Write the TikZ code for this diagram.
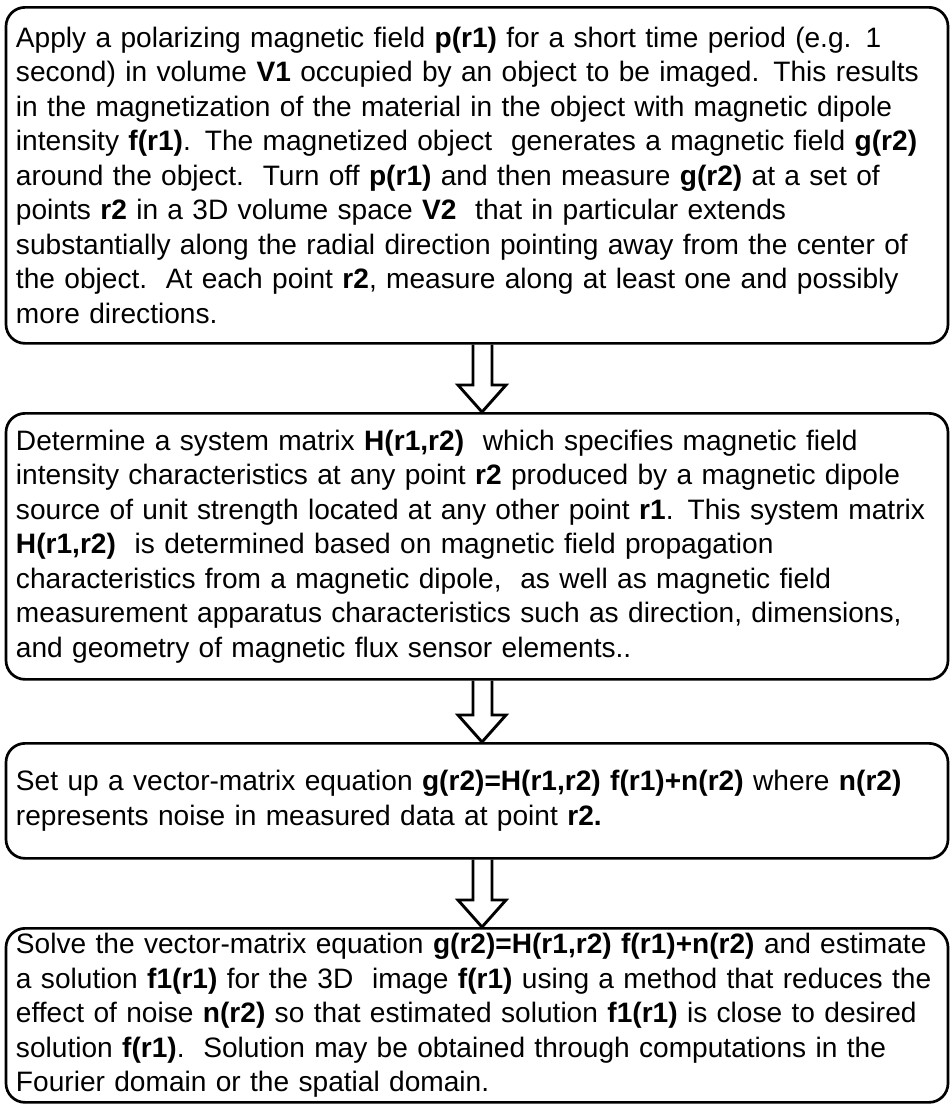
\documentclass[tikz,border=0pt]{standalone}
\usepackage{fontspec}
\setmainfont{Liberation Sans}
\usetikzlibrary{calc}
\newcommand\hollowarrow[2]{%
  \draw[hollow] let \p1=(#1.south), \p2=(#2.north) in
    (\x1-4pt,\y1) -- (\x1-4pt,\y2+27pt) -- (\x1-19pt,\y2+27pt) -- (\x1+5pt,\y2)
    -- (\x1+29pt,\y2+27pt) -- (\x1+15pt,\y2+27pt) -- (\x1+15pt,\y1);}
\begin{document}
\begin{tikzpicture}[x=1pt,y=1pt,
  box/.style={draw, line width=2.7pt, rounded corners=19pt, minimum width=942pt,
    text width=922pt, inner xsep=10pt, inner ysep=0pt, align=left,
    font=\fontsize{28.1}{34.5}\selectfont, anchor=north},
  hollow/.style={draw, line width=2.9pt, line join=miter}]
\useasboundingbox (0,0) rectangle (950,-1104);
\node[box, minimum height=336pt] (b1) at (477,-6) {Apply a polarizing magnetic field \textbf{p(r1)} for a short time period (e.g. 1\\
second) in volume \textbf{V1} occupied by an object to be imaged. This results\\
in the magnetization of the material in the object with magnetic dipole\\
intensity \textbf{f(r1)}. The magnetized object\ \ generates a magnetic field \textbf{g(r2)}\\
around the object.\ \ Turn off \textbf{p(r1)} and then measure \textbf{g(r2)} at a set of\\
points \textbf{r2} in a 3D volume space \textbf{V2}\ \ that in particular extends\\
substantially along the radial direction pointing away from the center of\\
the object.\ \ At each point \textbf{r2}, measure along at least one and possibly\\
more directions.};
\node[box, minimum height=266pt] (b2) at (477,-412) {Determine a system matrix \textbf{H(r1,r2)}\ \ which specifies magnetic field\\
intensity characteristics at any point \textbf{r2} produced by a magnetic dipole\\
source of unit strength located at any other point \textbf{r1}. This system matrix\\
\textbf{H(r1,r2)}\ \ is determined based on magnetic field propagation\\
characteristics from a magnetic dipole,\ \ as well as magnetic field\\
measurement apparatus characteristics such as direction, dimensions,\\
and geometry of magnetic flux sensor elements..};
\node[box, minimum height=115pt] (b3) at (477,-742) {Set up a vector-matrix equation \textbf{g(r2)=H(r1,r2) f(r1)+n(r2)} where \textbf{n(r2)}\\
represents noise in measured data at point \textbf{r2.}};
\node[box, minimum height=174pt] (b4) at (477,-927) {Solve the vector-matrix equation \textbf{g(r2)=H(r1,r2) f(r1)+n(r2)} and estimate\\
a solution \textbf{f1(r1)} for the 3D\ \ image \textbf{f(r1)} using a method that reduces the\\
effect of noise \textbf{n(r2)} so that estimated solution \textbf{f1(r1)} is close to desired\\
solution \textbf{f(r1)}.\ \ Solution may be obtained through computations in the\\
Fourier domain or the spatial domain.};
\hollowarrow{b1}{b2}
\hollowarrow{b2}{b3}
\hollowarrow{b3}{b4}
\end{tikzpicture}
\end{document}
